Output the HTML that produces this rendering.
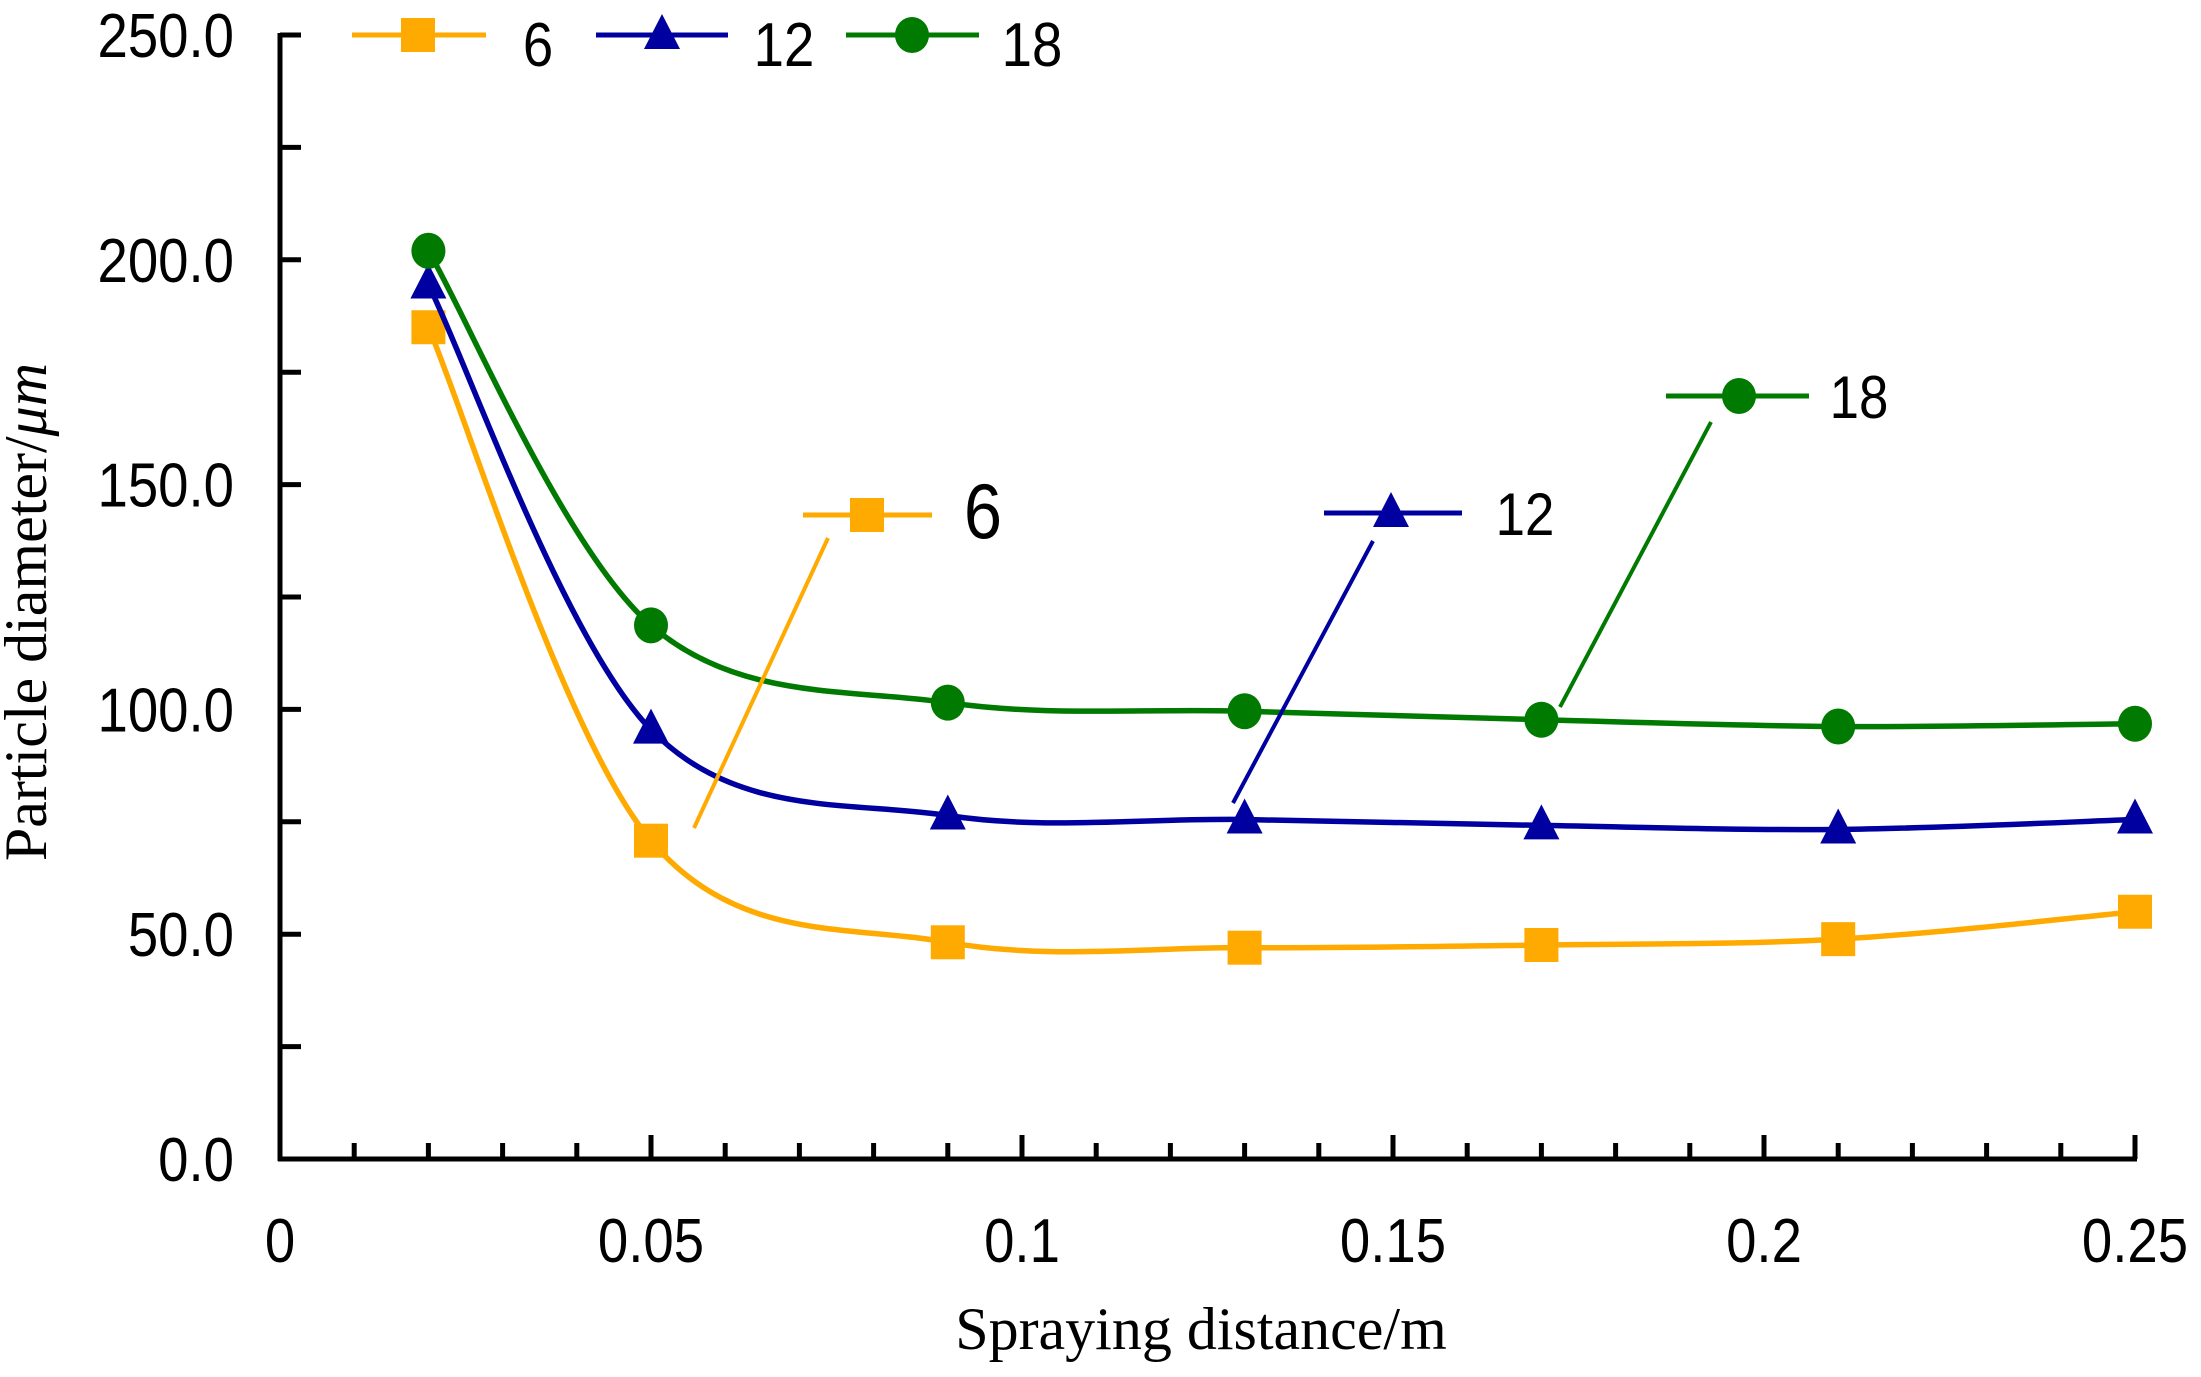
<!DOCTYPE html>
<html><head><meta charset="utf-8"><style>
html,body{margin:0;padding:0;background:#fff;width:2201px;height:1377px;overflow:hidden}
svg text{font-family:"Liberation Sans",sans-serif;fill:#000}
</style></head><body>
<svg id="s" width="2201" height="1377" viewBox="0 0 2201 1377" xmlns="http://www.w3.org/2000/svg">
<g id="axes" stroke="#000" stroke-width="5" fill="none">
<line x1="280" y1="33" x2="280" y2="1161"/>
<line x1="278" y1="1159" x2="2137" y2="1159"/>
</g>
<g id="ticks" stroke="#000" stroke-width="5"></g>
<g id="labels"></g>
<text x="46" y="612" font-size="60" text-anchor="middle" transform="rotate(-90 46 612)" style="font-family:'Liberation Serif',serif">Particle diameter/<tspan font-style="italic">μm</tspan></text>
<text x="1201" y="1349" font-size="60" text-anchor="middle" style="font-family:'Liberation Serif',serif">Spraying distance/m</text>
<g id="series"></g>
<g id="legend"></g>
</svg>
<script>
const NS="http://www.w3.org/2000/svg";
function el(p,t,a,txt){const e=document.createElementNS(NS,t);for(const k in a)e.setAttribute(k,a[k]);if(txt!==undefined)e.textContent=txt;p.appendChild(e);return e;}
function tx(p,x,y,fs,anchor,txt){return el(p,'text',{x:0,y:0,'font-size':fs,'text-anchor':anchor,transform:`translate(${x},${y}) scale(0.88,1)`},txt);}
const X=v=>280+v*7420, Y=v=>1159-v*4.496;
const tk=document.getElementById('ticks'), lb=document.getElementById('labels');
for(let i=0;i<=10;i++){const y=Y(i*25);el(tk,'line',{x1:280,y1:y,x2:301,y2:y});
 if(i%2==0)tx(lb,234,y+22,62,'end',(i*25).toFixed(1));}
for(let i=1;i<=25;i++){const x=X(i*0.01);const L=(i%5==0)?24:16;el(tk,'line',{x1:x,y1:1159,x2:x,y2:1159-L});}
['0','0.05','0.1','0.15','0.2','0.25'].forEach((t,i)=>tx(lb,X(i*0.05),1262,62,'middle',t));
const xs=[0.02,0.05,0.09,0.13,0.17,0.21,0.25];
const S=[
 {c:'#FFAA00',m:'sq',d:[185,70.8,48.2,47,47.6,48.9,55]},
 {c:'#0000A0',m:'tri',d:[194.5,95.5,76.4,75.5,74.2,73.3,75.5]},
 {c:'#007A00',m:'ci',d:[202,118.7,101.5,99.6,97.7,96.2,96.8]}];
const sg=document.getElementById('series');
function path(P){let d=`M${P[0][0]},${P[0][1]}`;for(let i=0;i<P.length-1;i++){const p0=P[i-1]||P[i],p1=P[i],p2=P[i+1],p3=P[i+2]||p2;const t=0.5/3;
 d+=` C${p1[0]+(p2[0]-p0[0])*t},${p1[1]+(p2[1]-p0[1])*t} ${p2[0]-(p3[0]-p1[0])*t},${p2[1]-(p3[1]-p1[1])*t} ${p2[0]},${p2[1]}`;}return d;}
function mk(g,m,c,x,y){if(m=='sq')el(g,'rect',{x:x-17,y:y-17,width:34,height:34,fill:c});
 else if(m=='tri')el(g,'polygon',{points:`${x},${y-21} ${x+18},${y+14} ${x-18},${y+14}`,fill:c});
 else el(g,'ellipse',{cx:x,cy:y,rx:17,ry:18,fill:c});}
S.forEach(s=>{const P=xs.map((x,i)=>[X(x),Y(s.d[i])]);el(sg,'path',{d:path(P),stroke:s.c,'stroke-width':5.5,fill:'none'});P.forEach(p=>mk(sg,s.m,s.c,p[0],p[1]));});
const lg=document.getElementById('legend');
[[352,486,418,538,'6',0],[596,728,662,784,'12',1],[846,979,912,1032,'18',2]].forEach(a=>{const s=S[a[5]];
 el(lg,'line',{x1:a[0],y1:35,x2:a[1],y2:35,stroke:s.c,'stroke-width':5});mk(lg,s.m,s.c,a[2],35);
 tx(lg,a[3],66,62,'middle',a[4]);});
[[803,932,867,515,983,538,'6',0,78,828,538,694,828],[1324,1462,1391,513,1525,535,'12',1,60,1373,541,1233,803],[1666,1809,1739,396,1859,418,'18',2,60,1711,422,1560,707]].forEach(a=>{const s=S[a[7]];
 el(lg,'line',{x1:a[9],y1:a[10],x2:a[11],y2:a[12],stroke:s.c,'stroke-width':4});
 el(lg,'line',{x1:a[0],y1:a[3],x2:a[1],y2:a[3],stroke:s.c,'stroke-width':5});mk(lg,s.m,s.c,a[2],a[3]);
 tx(lg,a[4],a[5],a[8],'middle',a[6]);});
</script>
</body></html>
